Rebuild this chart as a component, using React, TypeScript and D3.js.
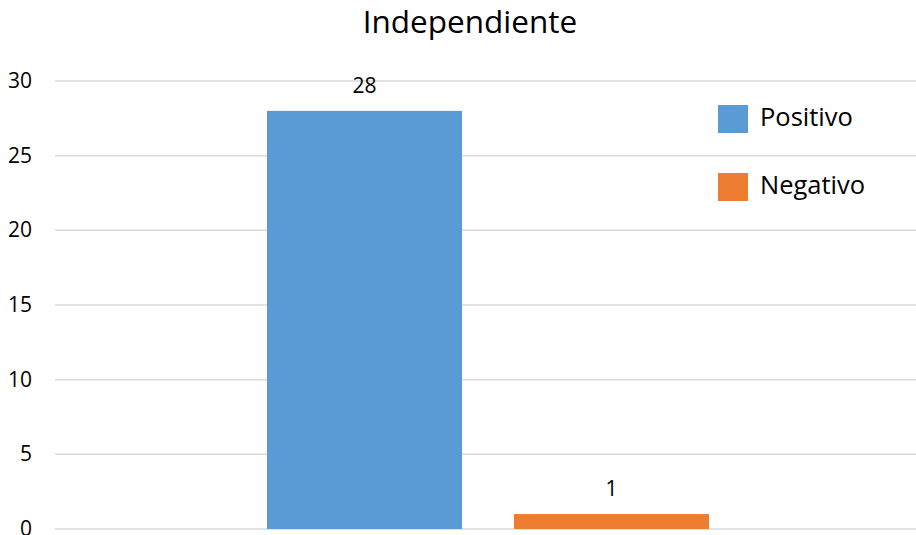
import React from "react";
import * as d3 from "d3";

const title = "Independiente";
const series = ["Positivo", "Negativo"];
const values = [28, 1];
const colors = ["#5B9BD5", "#ED7D31"];
const yTicks = [0, 5, 10, 15, 20, 25, 30];

const W = 916;
const H = 535;
const FONT = "'Open Sans', 'Noto Sans', sans-serif";

export default function App() {
  const plotLeft = 55;
  const plotRight = 921;
  const y = d3.scaleLinear().domain([0, 30]).range([529, 81]);
  const x = d3
    .scaleBand<string>()
    .domain(series)
    .range([plotLeft, plotRight])
    .paddingInner(0.2105)
    .paddingOuter(0.858);

  return (
    <svg
      width={W}
      height={H}
      style={{ position: "absolute", left: 0, top: 0, background: "#fff" }}
      fontFamily={FONT}
    >
      <rect x={0} y={0} width={W} height={H} fill="#fff" />
      <text x={470} y={33} textAnchor="middle" fontSize={31.5} fill="#000">
        {title}
      </text>
      {yTicks.map((t) => (
        <g key={t}>
          <line x1={plotLeft} x2={W} y1={y(t)} y2={y(t)} stroke="#D9D9D9" strokeWidth={1.5} />
          <text x={32} y={y(t) + 7} textAnchor="end" fontSize={21} fill="#000">
            {t}
          </text>
        </g>
      ))}
      {series.map((s, i) => (
        <g key={s}>
          <rect
            x={x(s)}
            y={y(values[i])}
            width={x.bandwidth()}
            height={y(0) - y(values[i])}
            fill={colors[i]}
          />
          <text
            x={(x(s) as number) + x.bandwidth() / 2}
            y={y(values[i]) - 18}
            textAnchor="middle"
            fontSize={21}
            fill="#000"
          >
            {values[i]}
          </text>
        </g>
      ))}
      {series.map((s, i) => (
        <g key={"lg" + s} transform={`translate(718, ${105 + i * 68})`}>
          <rect x={0} y={0} width={30} height={28} fill={colors[i]} />
          <text x={42} y={21} fontSize={25.5} fill="#000">
            {s}
          </text>
        </g>
      ))}
    </svg>
  );
}
